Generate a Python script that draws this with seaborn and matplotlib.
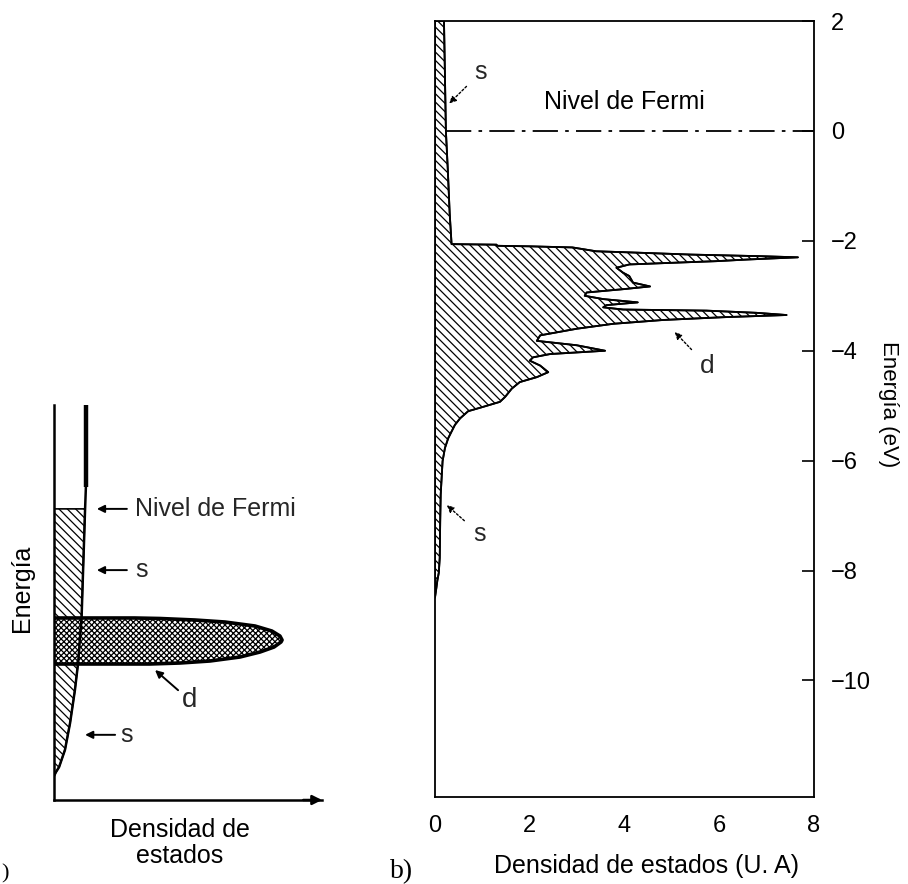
import numpy as np
import pandas as pd
import matplotlib
matplotlib.use("Agg")
import matplotlib.pyplot as plt
import seaborn as sns

# ---------------- data: panel b) (density of states) ----------------
energy_ev = [2.0, 1.0, 0.0, -0.7, -1.5, -2.06, -2.07, -2.09, -2.10, -2.12, -2.19, -2.21,
             -2.25, -2.28, -2.30, -2.34, -2.37, -2.40, -2.43, -2.49, -2.58, -2.64, -2.76,
             -2.83, -2.88, -2.94, -3.00, -3.06, -3.12, -3.17, -3.21, -3.25, -3.27, -3.31,
             -3.35, -3.39, -3.44, -3.51, -3.60, -3.72, -3.82, -3.90, -4.00, -4.06, -4.12,
             -4.18, -4.27, -4.39, -4.48, -4.57, -4.69, -4.84, -4.93, -5.02, -5.10, -5.23,
             -5.35, -5.59, -5.77, -6.01, -6.62, -7.10, -7.77, -8.04, -8.18, -8.31, -8.49]
dos_total = [0.19, 0.21, 0.23, 0.27, 0.31, 0.35, 1.30, 1.30, 2.00, 2.90, 3.40, 4.10,
             5.40, 6.90, 7.66, 6.60, 5.94, 5.00, 4.10, 3.83, 3.97, 4.10, 4.18,
             4.54, 3.97, 3.20, 3.16, 3.55, 4.28, 3.62, 3.55, 3.97, 5.73, 6.79,
             7.42, 6.08, 4.82, 3.76, 2.99, 2.22, 2.15, 2.99, 3.59, 2.43, 2.07,
             2.00, 2.22, 2.39, 2.15, 1.79, 1.62, 1.48, 1.37, 1.02, 0.70, 0.53,
             0.42, 0.28, 0.21, 0.16, 0.12, 0.11, 0.10, 0.08, 0.05, 0.03, 0.00]
xticks_b = [0, 2, 4, 6, 8]
yticks_b = [2, 0, -2, -4, -6, -8, -10]
fermi_ev = 0.0

# ---------------- data: panel a) (schematic) ----------------
s_energy = [10.0, 7.92, 7.37, 5.49, 4.63, 3.47, 2.78, 1.95, 1.27, 0.835, 0.709, 0.608]
s_dos = [1.19, 1.19, 1.16, 1.07, 1.03, 0.90, 0.78, 0.60, 0.41, 0.19, 0.075, 0.0]
s_thick_top = 7.92
d_energy = [3.443, 3.443, 3.468, 3.519, 3.62, 3.747, 3.873, 4.0, 4.05, 4.152, 4.278,
            4.405, 4.506, 4.557, 4.595, 4.608, 4.608]
d_dos = [0.0, 3.58, 4.70, 5.82, 6.94, 7.69, 8.21, 8.47, 8.51, 8.43, 8.13,
         7.50, 6.38, 5.26, 3.96, 3.0, 0.0]
fermi_schematic = 7.37

# ---------------- style ----------------
sns.set_theme(style="white")
plt.rcParams["font.family"] = ["Liberation Sans", "DejaVu Sans"]
plt.rcParams["hatch.linewidth"] = 0.9
plt.rcParams["hatch.color"] = "black"

W, H = 908, 884
fig = plt.figure(figsize=(W / 100, H / 100), dpi=100)

def px_box(x0, y0, x1, y1):
    return [x0 / W, 1 - y1 / H, (x1 - x0) / W, (y1 - y0) / H]

FS = 18

# ================= panel b) =================
axb = fig.add_axes(px_box(435, 21, 814, 797))
df_b = pd.DataFrame({"E": energy_ev, "dos": dos_total})
axb.fill_betweenx(df_b["E"], 0, df_b["dos"], facecolor="white", edgecolor="black",
                  hatch="\\\\\\\\", linewidth=1.3, zorder=2)
sns.lineplot(data=df_b, x="dos", y="E", sort=False, estimator=None, color="black",
             lw=1.3, ax=axb, zorder=3)
dos_at_fermi = np.interp(fermi_ev, energy_ev[::-1], dos_total[::-1])
axb.hlines(fermi_ev, dos_at_fermi, xticks_b[-1], colors="black", lw=1.3,
           linestyles=[(0, (14, 4, 2, 4))], zorder=3)
axb.set_xlim(xticks_b[0], xticks_b[-1])
axb.set_ylim(-12.12, yticks_b[0])
axb.set_xticks(xticks_b)
axb.set_xticklabels([str(v) for v in xticks_b])
axb.set_xticks([4, 6], minor=True)
axb.set_yticks(yticks_b)
axb.set_yticklabels([str(v) if v >= 0 else "\u2212" + str(-v) for v in yticks_b])
axb.yaxis.tick_right()
axb.yaxis.set_label_position("right")
axb.tick_params(axis="y", which="major", direction="in", length=9, width=1.2,
                pad=12, labelsize=17, right=True, left=False, colors="black")
axb.tick_params(axis="x", which="major", length=0, pad=13, labelsize=17, colors="black")
axb.tick_params(axis="x", which="minor", direction="in", length=9, width=1.2,
                bottom=True, colors="black")
for sp in axb.spines.values():
    sp.set_visible(True)
    sp.set_color("black")
    sp.set_linewidth(1.3)
axb.set_xlabel("")
axb.set_ylabel("")
axb.grid(False)

fig.text(646 / W, 1 - 866 / H, "Densidad de estados (U. A)", fontsize=FS,
         ha="center", va="center", color="black")
fig.text(889 / W, 1 - 404 / H, "Energía (eV)", fontsize=16, rotation=-90,
         ha="center", va="center", color="black")
fig.text(390 / W, 1 - 872 / H, "b)", fontsize=20, ha="left", va="center",
         family=["Liberation Serif", "DejaVu Serif"], color="black")
fig.text(1 / W, 1 - 874 / H, ")", fontsize=16, ha="left", va="center",
         family=["Liberation Serif", "DejaVu Serif"], color="black")

axb.text(4.0, 0.52, "Nivel de Fermi", fontsize=FS, ha="center", va="center", color="black")
dotted = dict(arrowstyle="-|>", color="black", lw=1.0, ls=(0, (1.5, 1.5)),
              mutation_scale=10, shrinkA=5, shrinkB=0)
axb.annotate("s", xy=(0.30, 0.50), xytext=(0.97, 1.07), fontsize=18, ha="center",
             va="center", arrowprops=dotted)
axb.annotate("d", xy=(5.06, -3.66), xytext=(5.74, -4.27), fontsize=19, ha="center",
             va="center", arrowprops=dotted)
axb.annotate("s", xy=(0.25, -6.81), xytext=(0.93, -7.33), fontsize=18, ha="center",
             va="center", arrowprops=dotted)

# ================= panel a) =================
axa = fig.add_axes(px_box(54, 405, 322, 800))
axa.set_xlim(0, 10)
axa.set_ylim(0, 10)
s_E = np.array(s_energy)
s_D = np.array(s_dos)
below = s_E <= fermi_schematic + 1e-9
axa.fill_betweenx(s_E[below], 0, s_D[below], facecolor="white", edgecolor="black",
                  hatch="\\\\\\\\", linewidth=1.2, zorder=2)
axa.fill_betweenx(d_energy, 0, d_dos, facecolor="white", edgecolor="black",
                  hatch="xxxxxx", linewidth=2.6, zorder=3)
sns.lineplot(x=s_D, y=s_E, sort=False, estimator=None, color="black", lw=1.8,
             ax=axa, zorder=4)
top = s_E >= s_thick_top - 1e-9
axa.plot(s_D[top], s_E[top], color="black", lw=3.2, zorder=4, solid_capstyle="butt")
for name, sp in axa.spines.items():
    sp.set_visible(name in ("left", "bottom"))
    sp.set_color("black")
    sp.set_linewidth(1.8)
axa.set_xticks([])
axa.set_yticks([])
axa.grid(False)
axa.annotate("", xy=(1.0, 0), xytext=(0.93, 0), xycoords="axes fraction",
             arrowprops=dict(arrowstyle="-|>", color="black", lw=1.8,
                             mutation_scale=14, shrinkA=0, shrinkB=0))

solid = dict(arrowstyle="-|>", color="black", lw=1.4, mutation_scale=11,
             shrinkA=0, shrinkB=0)
axa.annotate("", xy=(1.60, fermi_schematic), xytext=(2.72, fermi_schematic), arrowprops=solid)
axa.text(3.02, fermi_schematic, "Nivel de Fermi", fontsize=FS, ha="left", va="center")
axa.annotate("", xy=(1.60, 5.82), xytext=(2.72, 5.82), arrowprops=solid)
axa.text(3.02, 5.82, "s", fontsize=FS, ha="left", va="center")
axa.annotate("", xy=(3.77, 3.29), xytext=(4.63, 2.78), arrowprops=solid)
axa.text(5.07, 2.53, "d", fontsize=FS + 2, ha="center", va="center")
axa.annotate("", xy=(1.16, 1.65), xytext=(2.28, 1.65), arrowprops=solid)
axa.text(2.46, 1.65, "s", fontsize=FS, ha="left", va="center")

fig.text(22 / W, 1 - 588 / H, "Energía", fontsize=FS, rotation=90,
         ha="center", va="center", color="black")
fig.text(180 / W, 1 - 843 / H, "Densidad de\nestados", fontsize=FS, ha="center",
         va="center", linespacing=1.15, color="black")

fig.savefig("out.png", dpi=100, facecolor="white")
